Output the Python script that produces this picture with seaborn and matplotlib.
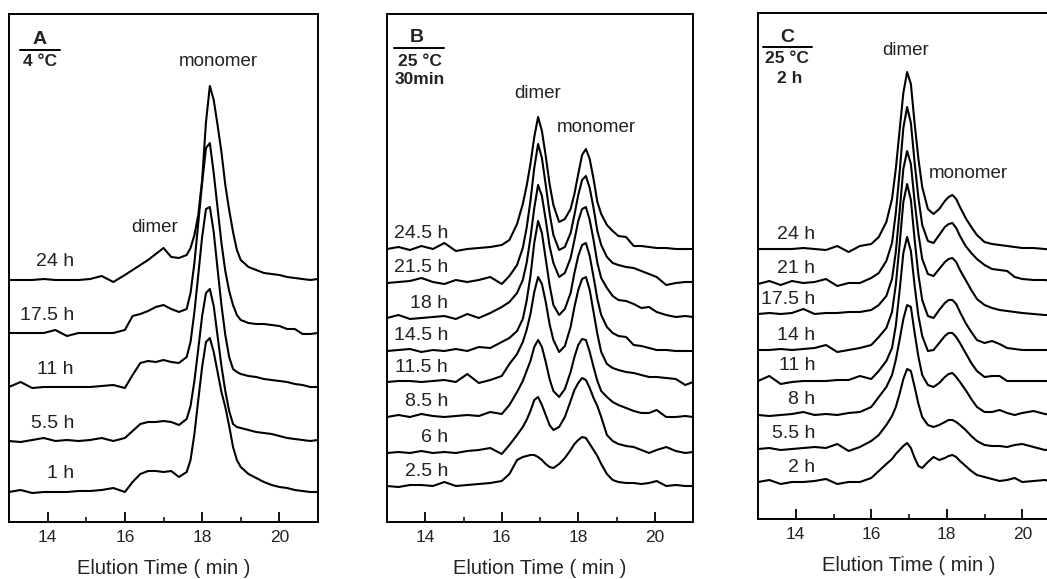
import matplotlib
matplotlib.use("Agg")
import matplotlib.pyplot as plt
from matplotlib.ticker import FixedLocator
import pandas as pd
import seaborn as sns

# --- Panel A (4 C) : elution time grid and detector traces (height above own baseline)
time_a = [13.0, 13.3, 13.6, 13.9, 14.2, 14.5, 14.8, 15.1, 15.4, 15.7, 16.0, 16.2, 16.4, 16.6, 16.8,
          17.0, 17.2, 17.4, 17.6, 17.7, 17.8, 17.9, 18.0, 18.1, 18.2, 18.3, 18.4, 18.5, 18.6, 18.7,
          18.8, 18.9, 19.0, 19.2, 19.4, 19.6, 19.8, 20.0, 20.2, 20.4, 20.6, 20.8, 21.0]
a_24h = [0, 0, 0, 1, 0, 0, 0, 1, 4, -2, 5, 10, 15, 20, 26, 32, 23, 22, 25, 32, 45, 65, 100, 158, 194,
         180, 155, 128, 95, 70, 48, 30, 20, 13, 10, 7, 6, 5, 3, 2, 1, 0, 1]
a_17h = [0, 0, 0, 0, 3, -3, 0, 0, 0, 0, 3, 17, 19, 22, 26, 28, 24, 21, 24, 40, 70, 110, 150, 185, 190,
         160, 125, 90, 62, 42, 28, 18, 13, 10, 9, 9, 8, 7, 4, 4, -1, -1, 0]
a_11h = [0, 5, -1, 0, 0, 0, 0, 0, 1, 2, -1, 12, 24, 26, 25, 27, 25, 24, 30, 45, 75, 112, 150, 178, 180,
         155, 118, 82, 52, 30, 18, 15, 13, 11, 10, 8, 7, 6, 5, 3, 2, 0, 0]
a_5h = [0, -1, 1, 3, 0, 1, 0, 1, 3, 0, 3, 10, 17, 19, 19, 20, 19, 16, 22, 35, 60, 92, 125, 148, 152,
        135, 105, 75, 50, 30, 17, 14, 13, 11, 9, 8, 7, 5, 3, 2, 1, 0, 1]
a_1h = [0, 2, -1, 0, 0, 0, 1, 1, 2, 4, 0, 10, 18, 21, 21, 20, 21, 15, 20, 32, 58, 92, 125, 150, 154,
        140, 120, 100, 85, 66, 45, 32, 25, 18, 14, 10, 7, 5, 4, 2, 1, 0, 0]
names_a = ["24 h", "17.5 h", "11 h", "5.5 h", "1 h"]
offsets_a = [242, 189, 135, 81, 30]

# --- Panel B (25 C, 30 min)
time_b = [13.0, 13.3, 13.6, 13.9, 14.2, 14.5, 14.8, 15.1, 15.4, 15.7, 16.0, 16.2, 16.4, 16.55, 16.65,
          16.75, 16.85, 16.95, 17.05, 17.15, 17.25, 17.35, 17.5, 17.65, 17.8, 17.9, 18.0, 18.1, 18.2,
          18.3, 18.4, 18.5, 18.6, 18.75, 18.9, 19.05, 19.25, 19.45, 19.65, 19.85, 20.05, 20.3, 20.55,
          20.8, 21.0]
b_24h = [0, 2, -1, 3, 0, 6, -2, 0, 1, 2, 4, 9, 25, 45, 63, 85, 112, 132, 118, 93, 65, 44, 27, 30, 40,
         55, 75, 94, 100, 90, 70, 47, 35, 24, 18, 13, 12, 3, 3, 2, 1, 1, 0, 0, 0]
b_21h = [0, 1, 2, 5, 1, -1, 3, 1, 3, 6, -1, 7, 18, 35, 55, 82, 115, 139, 125, 98, 70, 48, 33, 36, 50,
         68, 88, 103, 107, 95, 75, 52, 38, 26, 20, 18, 16, 15, 12, 9, 6, -2, 0, 1, 1]
b_18h = [0, 3, -1, 0, 1, 2, -1, 4, 0, 5, 11, 16, 25, 38, 55, 80, 110, 133, 122, 98, 72, 55, 41, 45, 60,
         78, 97, 109, 111, 98, 78, 55, 40, 30, 22, 18, 17, 14, 10, 11, 6, 3, 1, 2, 1]
b_14h = [0, 1, 2, -1, 1, 0, 2, 0, 4, 3, 9, 13, 20, 32, 50, 75, 108, 130, 118, 92, 66, 46, 36, 42, 58,
         78, 95, 106, 108, 95, 74, 52, 36, 24, 18, 15, 14, 6, 5, 3, 1, 1, 0, 0, 0]
b_11h = [0, 1, 1, 0, 1, 2, 0, 8, -1, 2, 6, 18, 28, 40, 52, 68, 90, 105, 98, 80, 58, 42, 30, 36, 55,
         75, 92, 103, 105, 92, 70, 48, 30, 18, 14, 12, 10, 9, 7, 5, 5, 4, 3, -3, 0]
b_8h = [0, 2, 0, 3, 1, 0, 1, 2, 1, 5, 3, 12, 25, 36, 46, 56, 70, 77, 70, 55, 38, 26, 20, 28, 45,
        60, 72, 78, 77, 65, 50, 36, 26, 20, 15, 12, 9, 6, 4, 4, 7, 0, 0, 1, 0]
b_6h = [0, 1, 0, 2, 0, 1, 0, 2, 3, 5, -1, 8, 18, 26, 33, 42, 53, 56, 48, 38, 28, 23, 26, 36, 52,
        63, 70, 75, 73, 65, 55, 47, 36, 18, 12, 9, 7, 6, 3, 0, 3, 6, 2, 0, 1]
b_2h = [0, -1, 1, 1, 0, 4, 0, 1, 2, 3, 5, 12, 26, 29, 30, 31, 31, 29, 26, 22, 19, 18, 22, 28, 36,
        42, 46, 49, 48, 42, 36, 30, 22, 12, 6, 4, 3, 3, 2, 3, 5, 0, 1, 0, 0]
names_b = ["24.5 h", "21.5 h", "18 h", "14.5 h", "11.5 h", "8.5 h", "6 h", "2.5 h"]
offsets_b = [273, 239, 204, 171, 140, 105, 69, 36]

# --- Panel C (25 C, 2 h)
time_c = [13.0, 13.3, 13.6, 13.9, 14.2, 14.5, 14.8, 15.1, 15.4, 15.7, 16.0, 16.2, 16.4, 16.55, 16.65,
          16.75, 16.85, 16.95, 17.05, 17.15, 17.25, 17.35, 17.5, 17.65, 17.8, 17.95, 18.05, 18.15,
          18.25, 18.35, 18.5, 18.65, 18.8, 19.0, 19.2, 19.4, 19.6, 19.8, 20.0, 20.3, 20.6, 20.8, 21.0]
c_24h = [0, 0, 0, 0, 1, 0, -1, 3, -3, 3, 5, 12, 27, 50, 80, 118, 156, 177, 165, 125, 90, 62, 40, 35,
         40, 48, 52, 54, 50, 42, 31, 22, 14, 7, 5, 4, 3, 2, 1, 1, 0, -1, 0]
c_21h = [-1, 2, -2, 2, 0, 1, 4, -3, 0, 0, 5, 10, 22, 40, 70, 110, 155, 176, 160, 120, 85, 58, 42, 40,
         48, 56, 59, 60, 55, 47, 37, 30, 24, 18, 14, 13, 12, 6, 4, 3, 3, 2, 2]
c_17h = [0, 1, 0, 1, 5, 0, 1, 1, 2, 2, 4, 9, 18, 35, 62, 102, 145, 163, 150, 112, 80, 55, 40, 38,
         45, 52, 55, 56, 52, 44, 34, 24, 15, 9, 6, 4, 3, 2, 1, 0, -1, -1, -2]
c_14h = [0, 0, 1, 0, 1, 2, 5, -2, 0, 2, 5, 13, 22, 38, 65, 105, 148, 166, 150, 110, 75, 50, 34, 32,
         40, 47, 50, 50, 46, 38, 27, 18, 10, 7, 9, 6, 2, 1, 0, 0, 0, 0, 0]
c_11h = [0, 5, -3, -1, 0, 0, 0, 1, 1, 5, 2, 10, 20, 33, 55, 90, 128, 144, 130, 95, 65, 45, 30, 31,
         38, 45, 48, 48, 44, 38, 28, 18, 10, 4, 5, 5, 0, 0, 0, 0, 0, 0, 0]
c_8h = [0, -1, 0, 1, 3, 0, 1, 0, 2, 3, 8, 18, 28, 40, 55, 75, 96, 110, 108, 82, 58, 40, 30, 28,
        32, 38, 41, 42, 38, 33, 25, 16, 8, 3, 3, 5, 2, 0, 2, 4, 1, 0, 1]
c_5h = [0, 1, -1, 0, 1, 2, 1, 5, -2, 2, 8, 14, 24, 33, 42, 55, 70, 80, 78, 62, 45, 32, 24, 22,
        24, 27, 29, 29, 27, 24, 19, 13, 8, 4, 3, 3, 2, 4, 5, 2, -1, 0, 0]
c_2h = [0, 2, -2, 0, 0, 1, 3, -2, 0, 0, 4, 11, 18, 23, 28, 32, 36, 39, 34, 24, 16, 14, 20, 25,
        22, 24, 26, 27, 25, 21, 16, 11, 7, 5, 3, 1, 2, 4, 0, 1, 2, 0, 1]
names_c = ["24 h", "21 h", "17.5 h", "14 h", "11 h", "8 h", "5.5 h", "2 h"]
offsets_c = [270, 236, 205, 169, 138, 104, 70, 37]


def stack(times, traces, offsets, names):
    rows = []
    for name, sig, off in zip(names, traces, offsets):
        assert len(sig) == len(times), name
        for t, s in zip(times, sig):
            rows.append((name, t, s + off))
    return pd.DataFrame(rows, columns=["trace", "time", "signal"])


def draw_panel(ax, df, names, offsets, ytop, label_x, label_dy):
    sns.lineplot(data=df, x="time", y="signal", units="trace", estimator=None, sort=False,
                 color="black", linewidth=1.5, ax=ax, legend=False,
                 solid_joinstyle="round", solid_capstyle="round")
    for name, off in zip(names, offsets):
        ax.text(label_x, off + label_dy, name, ha="right", va="center", fontsize=14, color="#222222")
    ax.set_xlim(13, 21)
    ax.set_ylim(0, ytop)
    ax.set_yticks([])
    ax.set_ylabel("")
    ax.set_xticks([14, 16, 18, 20])
    ax.xaxis.set_minor_locator(FixedLocator([15, 17, 19]))
    ax.tick_params(axis="x", which="both", bottom=True, top=False)
    ax.tick_params(axis="x", which="major", direction="in", length=7, width=1.3,
                   labelsize=12.5, pad=6, colors="black", labelcolor="#222222")
    ax.tick_params(axis="x", which="minor", direction="in", length=3.5, width=1.3)
    ax.set_xlabel("Elution Time ( min )", fontsize=14.5, labelpad=10, color="#222222")
    for sp in ax.spines.values():
        sp.set_linewidth(1.4)
        sp.set_color("black")


sns.set_theme(style="white")
plt.rcParams["font.family"] = ["Liberation Sans", "DejaVu Sans"]

fig = plt.figure(figsize=(10.47, 5.79), dpi=100)
ax_a = fig.add_axes([9 / 1047, 57 / 579, 309 / 1047, 508 / 579])
ax_b = fig.add_axes([387 / 1047, 57 / 579, 306 / 1047, 508 / 579])
ax_c = fig.add_axes([758 / 1047, 60 / 579, 302 / 1047, 506 / 579])

df_a = stack(time_a, [a_24h, a_17h, a_11h, a_5h, a_1h], offsets_a, names_a)
df_b = stack(time_b, [b_24h, b_21h, b_18h, b_14h, b_11h, b_8h, b_6h, b_2h], offsets_b, names_b)
df_c = stack(time_c, [c_24h, c_21h, c_17h, c_14h, c_11h, c_8h, c_5h, c_2h], offsets_c, names_c)

draw_panel(ax_a, df_a, names_a, offsets_a, 508, 14.68, 18)
draw_panel(ax_b, df_b, names_b, offsets_b, 508, 14.6, 15)
draw_panel(ax_c, df_c, names_c, offsets_c, 506, 14.51, 15)

# panel headers
kw_b = dict(ha="center", va="center", fontweight="bold", color="#222222")
ax_a.text(13.8, 482, "A", fontsize=14, **kw_b)
ax_a.plot([13.28, 14.32], [472, 472], color="black", lw=1.4)
ax_a.text(13.8, 461, "4 °C", fontsize=12.5, **kw_b)

ax_b.text(13.79, 485, "B", fontsize=14, **kw_b)
ax_b.plot([13.18, 14.49], [474, 474], color="black", lw=1.4)
ax_b.text(13.86, 461, "25 °C", fontsize=12.5, **kw_b)
ax_b.text(13.86, 442, "30min", fontsize=12.5, **kw_b)

ax_c.text(13.77, 482, "C", fontsize=14, **kw_b)
ax_c.plot([13.13, 14.43], [472, 472], color="black", lw=1.4)
ax_c.text(13.77, 461, "25 °C", fontsize=12.5, **kw_b)
ax_c.text(13.85, 441, "2 h", fontsize=12.5, **kw_b)

# peak annotations
kw_p = dict(ha="center", va="center", fontsize=13.5, color="#222222")
ax_a.text(18.41, 460, "monomer", **kw_p)
ax_a.text(16.78, 294, "dimer", **kw_p)
ax_b.text(16.93, 428, "dimer", **kw_p)
ax_b.text(18.48, 394, "monomer", **kw_p)
ax_c.text(16.9, 469, "dimer", **kw_p)
ax_c.text(18.57, 346, "monomer", **kw_p)

fig.savefig("out.png", dpi=100)
